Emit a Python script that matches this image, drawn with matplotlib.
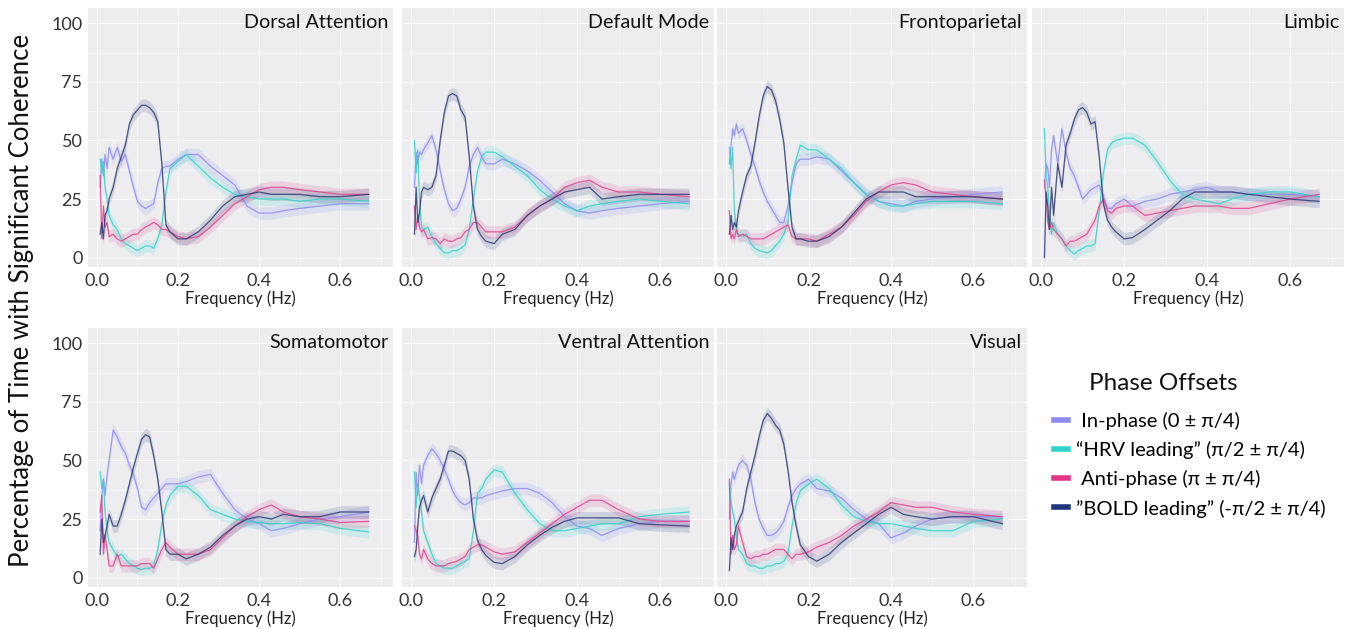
import numpy as np
import matplotlib.pyplot as plt
from matplotlib.lines import Line2D
from matplotlib.ticker import MultipleLocator

plt.rcParams['font.family'] = ['Lato', 'DejaVu Sans']

# frequency grid (Hz) the curves were read at
FREQ = [0.008, 0.012, 0.016, 0.02, 0.025, 0.03, 0.04, 0.05, 0.06, 0.07, 0.08,
        0.09, 0.10, 0.11, 0.12, 0.13, 0.14, 0.15,
        0.16, 0.17, 0.18, 0.20, 0.22, 0.25, 0.28, 0.31, 0.34, 0.37, 0.40, 0.43,
        0.46, 0.50, 0.55, 0.60, 0.67]

# % time with significant coherence, one list per phase offset per network
DA_IN = [30, 42, 35, 44, 38, 47, 42, 47, 41, 44, 37, 30, 24, 22, 21, 22, 23, 32,
         38, 39, 39, 42, 44, 44, 39, 35, 31, 22, 19, 19, 20, 21, 22, 23, 23]
DA_HRV = [42, 36, 41, 30, 25, 18, 14, 12, 8, 6, 5, 4, 3, 4, 5, 5, 4, 8,
          14, 28, 38, 41, 44, 39, 34, 30, 27, 26, 25, 25, 25, 24, 25, 25, 24]
DA_ANTI = [35, 8, 22, 13, 15, 9, 10, 8, 7, 8, 9, 10, 10, 12, 13, 14, 15, 14,
           12, 12, 11, 9, 8, 9, 13, 18, 23, 26, 29, 30, 30, 29, 28, 27, 27]
DA_BOLD = [10, 15, 8, 18, 20, 25, 30, 38, 43, 48, 57, 61, 63, 65, 65, 64, 62, 58,
           40, 14, 11, 8, 8, 11, 16, 22, 26, 27, 28, 27, 27, 27, 26, 26, 27]

DM_IN = [30, 45, 40, 45, 44, 46, 49, 52, 46, 37, 29, 23, 20, 21, 25, 30, 39, 44,
         47, 43, 40, 40, 42, 40, 37, 33, 28, 23, 20, 19, 20, 21, 22, 23, 24]
DM_HRV = [50, 36, 46, 25, 13, 12, 13, 9, 6, 4, 2, 2, 3, 3, 4, 5.5, 12, 25,
          37, 43, 45, 45, 43, 39, 35, 29, 25, 22, 20, 22, 23, 24, 25, 24, 23]
DM_ANTI = [22, 12, 18, 13, 11, 12, 8, 8.5, 8, 6, 8, 7, 7, 8, 8.5, 11, 12, 15,
           15, 13, 11, 11, 11, 13, 18, 22, 25, 30, 32, 33, 30, 28, 28, 27, 26]
DM_BOLD = [10, 30, 15, 19, 28, 30, 29, 30, 35, 50, 62, 69, 70, 69, 63, 60, 43, 22,
           12, 9, 7, 6, 10, 12, 18, 22, 25, 28, 29, 30, 25, 26, 27, 27, 27]

FP_IN = [40, 48, 55, 52, 57, 53, 55, 50, 44, 39, 33, 28, 24, 21, 18, 15, 15, 22,
         32, 40, 42, 42, 43, 42, 37, 32, 27, 24, 23, 22, 24, 25, 26, 27, 28]
FP_HRV = [47, 38, 47, 20, 12, 10, 9, 10, 6, 4, 3, 2.5, 2, 3, 5, 7, 10, 15,
          35, 42, 48, 46, 46, 42, 38, 32, 27, 24, 22, 22, 23, 24, 24, 24, 23]
FP_ANTI = [20, 8, 10, 8, 12, 9, 10, 9, 8, 8, 8, 8, 9, 10, 11, 12, 13, 14,
           9, 8, 8, 8, 7, 10, 13, 18, 24, 28, 31, 32, 31, 28, 27, 26, 25]
FP_BOLD = [10, 18, 12, 15, 13, 20, 28, 35, 39, 49, 60, 69, 73, 71.5, 67, 59, 49, 30,
           13, 8, 8, 7, 7, 9, 13, 19, 25, 28, 28, 28, 26, 26, 26, 26, 25]

LI_IN = [30, 40, 38, 30, 46, 52, 40, 55, 45, 38, 35, 30, 25, 27, 29, 30, 31, 26,
         21, 21, 23, 25, 22, 24, 25, 27, 28, 29, 30, 28, 28, 27, 27, 27, 26]
LI_HRV = [55, 35, 30, 20, 10, 15, 10, 8, 5, 3, 1.5, 3, 4, 5, 5, 6, 20, 36,
          46, 49, 50, 51, 51, 48, 41, 33, 27, 25, 24, 23, 25, 27, 28, 28, 26]
LI_ANTI = [33, 25, 15, 12, 15, 12, 10, 8, 5, 7, 7, 8, 9, 10, 13, 16, 22, 25,
           20, 19, 21, 22, 22, 18, 19, 20, 21, 22, 22, 22, 21, 21, 23, 25, 27]
LI_BOLD = [0, 28, 22, 12, 30, 18, 40, 30, 48, 53, 59, 63, 64, 62, 57, 58, 43, 23,
           16, 13, 11, 8, 8.5, 12, 16, 20, 25, 28, 28, 28, 28, 27, 26, 25, 24]

SM_IN = [20, 35, 42, 35, 44, 50, 63, 60, 56, 53, 48, 44, 38, 30, 29, 32, 34, 36,
         38, 40, 40, 40, 41, 43, 44, 36, 29, 25, 23, 20, 21, 23, 25, 26, 28]
SM_HRV = [45, 38, 42, 28, 20, 15, 12, 9, 10, 8, 6, 5, 4, 3.5, 4, 4, 5, 12,
          23, 31, 35, 39, 39, 35, 29, 27, 25, 24, 23.5, 23, 23, 23.5, 23, 21, 19.5]
SM_ANTI = [28, 35, 10, 18, 12, 5, 5, 10, 5, 5, 5, 5, 5, 6, 6, 6, 4, 8,
           12, 15, 13, 10, 10, 10, 12, 17, 22, 26, 29, 31, 28, 26, 25, 23.5, 24]
SM_BOLD = [10, 25, 15, 18, 22, 27, 22, 22, 27, 33, 40, 47, 53, 59, 61, 60, 52, 42,
           28, 12, 10, 10, 8, 10, 13, 18, 22, 25, 26, 25, 27, 26, 26, 28, 28]

VA_IN = [15, 45, 35, 48, 40, 48, 52, 55, 53, 50, 46, 42, 37, 34, 32, 31, 32, 34,
         34, 34, 35, 36, 37, 38, 38, 36, 32, 26, 22, 21, 18, 21, 23, 24, 24]
VA_HRV = [45, 30, 40, 35, 28, 20, 15, 10, 6, 5, 4, 4, 4, 5, 6, 7, 8, 20,
          36, 38, 42, 46, 45, 36, 29, 23, 20, 20, 21, 22, 23, 23, 26, 27, 28]
VA_ANTI = [22, 20, 18, 10, 8, 12, 8, 6, 5, 5, 5, 6, 6.5, 7, 8, 9, 12, 13,
           14, 14, 13, 11, 10, 11, 15, 19, 23, 27, 30, 33, 33, 29, 25, 24, 24]
VA_BOLD = [9, 12, 22, 30, 33, 35, 28, 34, 38, 42, 48, 54, 54, 53, 52, 50, 42, 25,
           16, 12, 9.5, 6.5, 6, 9, 14, 18, 21.5, 24, 25.5, 25.5, 25.5, 25.5, 23, 22.5, 22]

VI_IN = [25, 40, 45, 42, 45, 48, 50, 48, 42, 32, 25, 21, 18, 18, 19, 21, 24, 30,
         35, 38, 40, 42, 38, 37, 34, 29, 25, 23, 17, 19, 22, 25, 26, 26, 26]
VI_HRV = [40, 32, 28, 25, 18, 12, 10, 6, 5, 5, 4, 4, 5, 5, 6, 6, 7, 10,
          22, 32, 37, 40, 42, 38, 31, 26, 24, 23, 23, 22, 21, 20, 20, 24, 25]
VI_ANTI = [42, 10, 18, 12, 14, 22, 15, 9, 8, 9, 9, 10, 10, 11, 12, 12, 12, 10,
           8, 10, 10, 11, 13, 15, 18, 22, 25, 28, 32, 31, 30, 30, 28, 27, 26]
VI_BOLD = [3, 17, 12, 18, 22, 24, 28, 38, 45, 52, 60, 67, 70, 68, 65, 63, 57, 46,
           32, 22, 14, 9, 7, 10, 15, 19, 23, 27, 30, 27, 26, 25, 26, 26, 23]

NETWORKS = ["Dorsal Attention", "Default Mode", "Frontoparietal", "Limbic",
            "Somatomotor", "Ventral Attention", "Visual"]
CURVES = [
    (DA_IN, DA_HRV, DA_ANTI, DA_BOLD),
    (DM_IN, DM_HRV, DM_ANTI, DM_BOLD),
    (FP_IN, FP_HRV, FP_ANTI, FP_BOLD),
    (LI_IN, LI_HRV, LI_ANTI, LI_BOLD),
    (SM_IN, SM_HRV, SM_ANTI, SM_BOLD),
    (VA_IN, VA_HRV, VA_ANTI, VA_BOLD),
    (VI_IN, VI_HRV, VI_ANTI, VI_BOLD),
]

PHASE_LABELS = [" In-phase (0 \u00b1 \u03c0/4)",
                "\u201cHRV leading\u201d (\u03c0/2 \u00b1 \u03c0/4)",
                " Anti-phase (\u03c0 \u00b1 \u03c0/4)",
                "\u201dBOLD leading\u201d (-\u03c0/2 \u00b1 \u03c0/4)"]
COLORS = ["#8f8bf2", "#35d2c8", "#e0448e", "#2e3b73"]
PATCH_COLORS = ["#8f8bf2", "#2fd3c9", "#e2358a", "#1f3580"]
BAND = 2.7  # half-width of shaded band

W, H = 1354, 629
COLS = [(88, 393), (402, 714), (717, 1027), (1032, 1344)]
ROWS = [(8, 267), (328, 587)]

fig = plt.figure(figsize=(W / 100, H / 100), dpi=100)
freq = np.array(FREQ)

for i, (name, curves) in enumerate(zip(NETWORKS, CURVES)):
    r, c = divmod(i, 4)
    (l, rt), (t, b) = COLS[c], ROWS[r]
    ax = fig.add_axes([l / W, 1 - b / H, (rt - l) / W, (b - t) / H])
    ax.set_facecolor("#ededf0")
    for sp in ax.spines.values():
        sp.set_visible(False)

    for vals, col in zip(curves, COLORS):
        y = np.array(vals, dtype=float)
        ax.fill_between(freq, y - BAND, y + BAND, color=col, alpha=0.16, lw=0)
        ax.plot(freq, y, color=col, lw=0.9, alpha=0.85)

    ax.set_xlim(-0.022, 0.73)
    ax.set_ylim(-4, 106.5)
    ax.xaxis.set_major_locator(MultipleLocator(0.2))
    ax.xaxis.set_minor_locator(MultipleLocator(0.1))
    ax.yaxis.set_major_locator(MultipleLocator(25))
    ax.yaxis.set_minor_locator(MultipleLocator(12.5))
    ax.grid(which="major", color="white", lw=0.9, alpha=0.85)
    ax.grid(which="minor", color="white", lw=0.5, alpha=0.6)
    ax.set_axisbelow(True)
    ax.tick_params(which="both", length=0, labelsize=13, colors="#333333", pad=4)
    ax.set_xticks([0.0, 0.2, 0.4, 0.6])
    ax.set_xticklabels(["0.0", "0.2", "0.4", "0.6"])
    if c == 0:
        ax.set_yticks([0, 25, 50, 75, 100])
    else:
        ax.set_yticklabels([])
    ax.set_xlabel("Frequency (Hz)", fontsize=12, labelpad=1, color="#222222")
    ax.text(0.985, 0.975, name, transform=ax.transAxes, ha="right", va="top",
            fontsize=14.2, color="#111111")

fig.text(22 / W, 1 - 300 / H, "Percentage of Time with Significant Coherence",
         rotation=90, ha="center", va="center", fontsize=18.5, color="#111111")

fig.text(1163 / W, 1 - 383 / H, "Phase Offsets", ha="center", va="center",
         fontsize=17.5, color="#111111")
handles = [Line2D([0], [0], color=col, lw=4) for col in PATCH_COLORS]
fig.legend(handles, PHASE_LABELS, loc="upper left",
           bbox_to_anchor=(1046 / W, 1 - 404 / H), frameon=False,
           fontsize=14.5, handlelength=0.7, handletextpad=0.4,
           labelspacing=0.55, borderaxespad=0)

fig.savefig("out.png", dpi=100)
